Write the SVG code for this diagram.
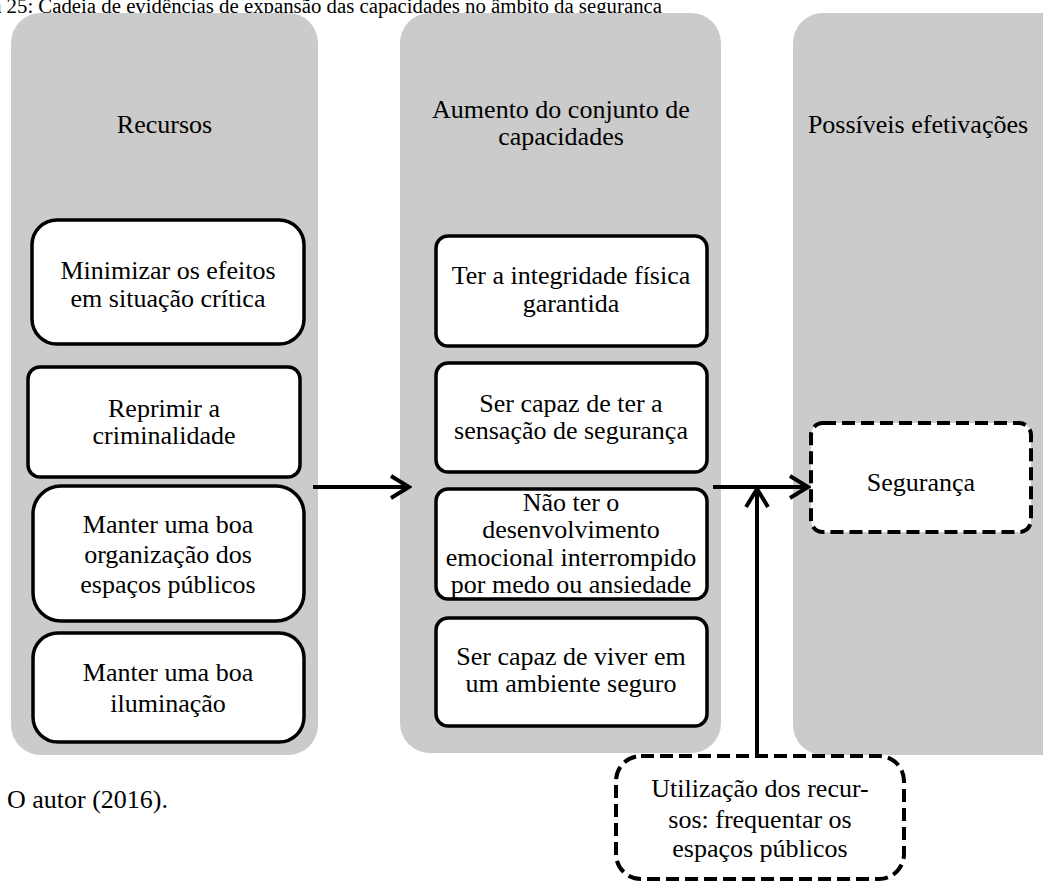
<svg xmlns="http://www.w3.org/2000/svg" width="1043" height="882" viewBox="0 0 1043 882">
<style>
text{font-family:"Liberation Serif","Times New Roman",serif;font-size:26px;fill:#000;text-anchor:middle}
.panel{fill:#cbcbcb}
.box{fill:#fff;stroke:#000;stroke-width:3.5}
.dash{fill:#fff;stroke:#000;stroke-width:4;stroke-dasharray:13 6}
.conn{stroke:#000;stroke-width:4;fill:none}
.cap{font-size:20.8px;text-anchor:end}
.left{text-anchor:start}
</style>
<defs>
<marker id="arr" markerUnits="userSpaceOnUse" viewBox="0 0 24 26" markerWidth="24" markerHeight="26" refX="21" refY="13" orient="auto">
<path d="M3,2 L21,13 L3,24" fill="none" stroke="#000" stroke-width="4"/>
</marker>
<clipPath id="clipC"><rect x="437" y="490" width="269" height="108" rx="11"/></clipPath>
</defs>
<text class="cap" x="662" y="13">a 25: Cadeia de evidências de expansão das capacidades no âmbito da segurança</text>
<g id="col-recursos">
<rect class="panel" x="11" y="13" width="307" height="742" rx="30"/>
<text x="164.5" y="133">Recursos</text>
</g>
<g id="col-capacidades">
<rect class="panel" x="400" y="13" width="321" height="740" rx="30"/>
<text x="561" y="118">Aumento do conjunto de</text>
<text x="561" y="145">capacidades</text>
</g>
<g id="col-efetivacoes">
<rect class="panel" x="793" y="13" width="290" height="742" rx="30"/>
<text x="918" y="133">Possíveis efetivações</text>
</g>
<g id="r1">
<rect class="box" x="32" y="220" width="272" height="124" rx="25"/>
<text x="168" y="279">Minimizar os efeitos</text>
<text x="168" y="307">em situação crítica</text>
</g>
<g id="r2">
<rect class="box" x="28" y="367" width="272" height="110" rx="12"/>
<text x="164" y="417">Reprimir a</text>
<text x="164" y="444">criminalidade</text>
</g>
<g id="r3">
<rect class="box" x="33" y="486" width="271" height="135" rx="28"/>
<text x="168" y="533">Manter uma boa</text>
<text x="168" y="563">organização dos</text>
<text x="168" y="593">espaços públicos</text>
</g>
<g id="r4">
<rect class="box" x="33" y="633" width="271" height="109" rx="25"/>
<text x="168" y="681">Manter uma boa</text>
<text x="168" y="712">iluminação</text>
</g>
<g id="c1">
<rect class="box" x="436" y="236" width="271" height="110" rx="12"/>
<text x="571" y="284">Ter a integridade física</text>
<text x="571" y="312">garantida</text>
</g>
<g id="c2">
<rect class="box" x="436" y="363" width="271" height="109" rx="12"/>
<text x="571" y="412">Ser capaz de ter a</text>
<text x="571" y="439">sensação de segurança</text>
</g>
<g id="c3">
<rect class="box" x="436" y="489" width="271" height="110" rx="12"/>
<g clip-path="url(#clipC)">
<text x="571" y="511">Não ter o</text>
<text x="571" y="538">desenvolvimento</text>
<text x="571" y="566">emocional interrompido</text>
<text x="571" y="593">por medo ou ansiedade</text>
</g>
</g>
<g id="c4">
<rect class="box" x="436" y="618" width="271" height="108" rx="12"/>
<text x="571" y="665">Ser capaz de viver em</text>
<text x="571" y="692">um ambiente seguro</text>
</g>
<g id="seguranca">
<rect class="dash" x="811" y="423" width="220" height="109" rx="12"/>
<text x="921" y="491">Segurança</text>
</g>
<g id="utilizacao">
<rect class="dash" x="616" y="756" width="288" height="123" rx="25"/>
<text x="760" y="797">Utilização dos recur-</text>
<text x="760" y="828">sos: frequentar os</text>
<text x="760" y="857">espaços públicos</text>
</g>
<g id="connectors">
<path class="conn" d="M313,487 L409,487" marker-end="url(#arr)"/>
<path class="conn" d="M713,487 L808,487" marker-end="url(#arr)"/>
<path class="conn" d="M757,756 L757,489" marker-end="url(#arr)"/>
</g>
<text class="left" x="7" y="808">O autor (2016).</text>
</svg>
